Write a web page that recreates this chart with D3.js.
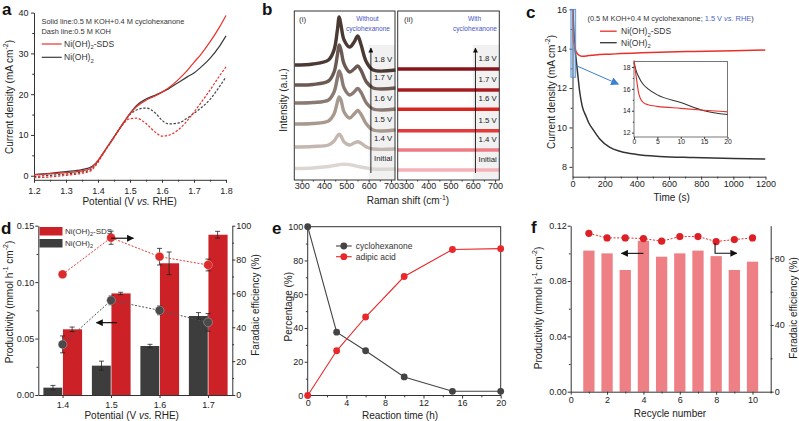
<!DOCTYPE html>
<html><head><meta charset="utf-8">
<script src="https://cdn.jsdelivr.net/npm/d3@7"></script>
<style>
body{margin:0;background:#fff;}
svg{display:block;font-family:"Liberation Sans",Arial,Helvetica,sans-serif;}
</style></head><body>
<svg id="chart" width="799" height="421"></svg>
<script>
// ---------------- DATA ----------------
// Panel a: LSV curves
const lsvPotential = [1.2,1.25,1.3,1.35,1.375,1.39,1.42,1.45,1.48,1.5,1.52,1.55,1.58,1.6,1.62,1.65,1.68,1.7,1.72,1.75,1.78,1.8];
const lsvSdsSolid = [0.2,0.45,0.75,1.2,1.7,2.8,6.0,9.5,13.0,15.2,16.9,18.5,19.6,20.5,21.5,23.5,25.9,27.8,29.6,32.8,36.5,39.3];
const lsvNiSolid  = [0.3,0.6,1.0,1.5,2.0,2.8,6.0,9.5,13.0,15.3,17.2,18.8,19.8,20.5,21.3,22.8,24.3,25.2,26.5,28.8,31.8,34.3];
const lsvSdsDash  = [-0.5,-0.3,0.1,0.6,1.1,2.2,5.8,9.3,12.8,14.0,14.1,12.8,10.6,9.7,9.9,11.2,13.6,15.6,17.7,21.0,24.5,26.7];
const lsvNiDash   = [-0.2,0.1,0.4,0.9,1.4,2.5,6.0,9.5,13.0,15.0,16.1,16.6,15.3,13.6,12.7,12.9,14.2,15.3,16.5,18.7,21.9,24.2];
const aTicksX = [1.2,1.3,1.4,1.5,1.6,1.7,1.8];
const aTicksY = [0,10,20,30,40];

// Panel b: Raman spectra (offset, arbitrary units)
const ramanShift = [270,350,420,445,460,468,476,490,515,535,551,565,590,620,720];
const ramanLabels = ["Initial","1.4 V","1.5 V","1.6 V","1.7 V","1.8 V"];
const ramanInitial = [11.5,12,13.5,14.5,15,15.4,15.6,15.7,15.4,14.5,13.7,13,12,11,11];
const raman14 = [33,33.5,35,39,44,45.7,44,38,35,37,38.3,37,33,31,31];
const raman15 = [56,56.5,59,66,78,83,80,68,62,66,69.5,66,56,50,50];
const raman16 = [77,77.5,80,88,102,109,105,92,85,88,91.5,88,77,71,71];
const raman17 = [95,95.5,99,108,125,135,130,116,108,111,114,110,98,92,92];
const raman18 = [115,116,120,130,150,163,155,140,133,138,144,136,118,110,110];
const ramanWithShift = [263,719];
const ramanWithLevels = [10,30,49.3,70.7,90,111];
const bTicksX = [300,400,500,600,700];

// Panel c: chronoamperometry
const ctTime = [0,0.5,1,1.5,2,3,5,10,15,20,30,45,60,85,100,127,168,230,300,400,542,750,1000,1200];
const ctSds  = [18.6,17.0,15.6,15.0,14.75,14.55,14.4,14.22,14.05,13.9,13.75,13.65,13.62,13.63,13.65,13.67,13.7,13.72,13.75,13.78,13.82,13.86,13.9,13.93];
const ctNi   = [18.4,17.6,17.1,16.7,16.4,16.0,15.45,14.75,14.0,13.65,12.9,11.8,11.1,10.55,10.25,9.9,9.43,9.0,8.78,8.63,8.53,8.47,8.42,8.4];
const cTicksX = [0,200,400,600,800,1000,1200];
const cTicksY = [8,10,12,14,16];
const cInsetTicksX = [0,5,10,15,20];
const cInsetTicksY = [12,14,16,18];

// Panel d: productivity & FE vs potential
const dPotential = [1.4,1.5,1.6,1.7];
const dProdSds = [0.0582,0.090,0.1167,0.142];
const dProdSdsErr = [0.002,0.001,0.010,0.003];
const dProdNi = [0.0065,0.026,0.0434,0.070];
const dProdNiErr = [0.002,0.004,0.0015,0.003];
const dFESds = [71.3,92.9,81.7,76.8];
const dFESdsErr = [0,3.9,4.9,3.5];
const dFENi = [29.9,55.9,50.0,42.9];
const dFENiErr = [5.0,2.6,2.6,5.2];
const dTicksYL = [0,0.05,0.10,0.15];
const dTicksYR = [0,20,40,60,80,100];

// Panel e: conversion vs time
const eTime = [0,3,6,10,15,20];
const eCyclohexanone = [100,37.5,26.5,11,2.5,2.5];
const eAdipic = [0,26.5,46.5,70.5,86.5,87];
const eTicksX = [0,4,8,12,16,20];
const eTicksY = [0,20,40,60,80,100];

// Panel f: recycling
const fCycle = [1,2,3,4,5,6,7,8,9,10];
const fProd = [0.102,0.100,0.088,0.109,0.0976,0.100,0.102,0.098,0.088,0.094];
const fFE = [94.9,92.2,92.2,91.8,90.2,93.0,93.0,90.0,91.2,92.2];
const fTicksX = [0,2,4,6,8,10];
const fTicksYL = [0,0.04,0.08,0.12];
const fTicksYR = [0,40,80];

// ---------------- HELPERS ----------------
const FONT = '"Liberation Sans", Arial, Helvetica, sans-serif';
const svg = d3.select('#chart');
const defs = svg.append('defs');
function marker(id, color, size) {
  defs.append('marker').attr('id', id).attr('viewBox','0 0 10 10').attr('refX',9).attr('refY',5)
    .attr('markerWidth', size).attr('markerHeight', size).attr('markerUnits','userSpaceOnUse').attr('orient','auto')
    .append('path').attr('d','M0,0 L10,5 L0,10 Z').attr('fill', color);
}
marker('arrBlack','#111',7);
marker('arrBlue','#3a7fd0',8);
marker('arrSmall','#111',5);

function addAxis(parent, orient, scale, pos, major, minor, fmt, o = {}) {
  const A = {bottom: d3.axisBottom, left: d3.axisLeft, right: d3.axisRight, top: d3.axisTop}[orient];
  const tr = (orient === 'bottom' || orient === 'top') ? `translate(0,${pos})` : `translate(${pos},0)`;
  const ts = o.tick == null ? 3 : o.tick;
  const g = parent.append('g').attr('transform', tr);
  g.call(A(scale).tickValues(major).tickFormat(fmt).tickSize(ts).tickSizeOuter(0).tickPadding(o.pad == null ? 2 : o.pad));
  g.attr('font-family', FONT).attr('font-size', o.size || 9);
  g.selectAll('.tick line').attr('stroke', '#333');
  g.selectAll('text').attr('fill', '#222');
  g.select('.domain').attr('stroke', '#333').attr('stroke-width', 1);
  if (o.noDomain) g.select('.domain').remove();
  if (minor && minor.length) {
    const m = parent.append('g').attr('transform', tr);
    m.call(A(scale).tickValues(minor).tickFormat('').tickSize(ts * 0.6).tickSizeOuter(0));
    m.select('.domain').remove();
    m.selectAll('line').attr('stroke', '#333');
  }
  return g;
}

function rt(parent, x, y, parts, o = {}) {
  const size = o.size || 9;
  const t = parent.append('text').attr('font-size', size).attr('fill', o.fill || '#222')
    .attr('text-anchor', o.anchor || 'start').attr('font-family', FONT);
  if (o.rotate) t.attr('transform', `translate(${x},${y}) rotate(${o.rotate})`);
  else t.attr('x', x).attr('y', y);
  if (o.weight) t.attr('font-weight', o.weight);
  if (o.baseline) t.attr('dominant-baseline', o.baseline);
  let shift = 0;
  (typeof parts === 'string' ? [parts] : parts).forEach(p => {
    if (typeof p === 'string') p = {t: p};
    const s = t.append('tspan').text(p.t);
    let target = 0;
    if (p.sup) target = -size * 0.38; else if (p.sub) target = size * 0.28;
    if (target !== shift) { s.attr('dy', target - shift); shift = target; }
    if (p.sup || p.sub) s.attr('font-size', size * 0.7);
    if (p.it) s.attr('font-style', 'italic');
    if (p.fill) s.attr('fill', p.fill);
  });
  return t;
}
const NIOH = (suffix) => ['Ni(OH)', {t: '2', sub: true}].concat(suffix ? [suffix] : []);
function letter(x, y, s) { rt(svg, x, y, s, {size: 17, weight: 'bold', fill: '#111'}); }
const minorBetween = (arr) => arr.slice(0, -1).map((v, i) => (v + arr[i + 1]) / 2);

// ---------------- PANEL A ----------------
{
  const g = svg.append('g');
  const x = d3.scaleLinear().domain([1.2, 1.8]).range([34, 226]);
  const y = d3.scaleLinear().domain([-1, 40]).range([179.8, 12.6]);
  addAxis(g, 'bottom', x, y(-1), aTicksX, minorBetween(aTicksX), d3.format('.1f'), {pad: 5});
  addAxis(g, 'left', y, x(1.2), aTicksY, minorBetween(aTicksY), d3.format('d'), {pad: 2.5});
  const line = (vals) => d3.line().x((d, i) => x(lsvPotential[i])).y(d => y(d)).curve(d3.curveMonotoneX)(vals);
  g.append('path').attr('d', line(lsvNiDash)).attr('fill', 'none').attr('stroke', '#444').attr('stroke-width', 1.2).attr('stroke-dasharray', '2.4,1.6');
  g.append('path').attr('d', line(lsvSdsDash)).attr('fill', 'none').attr('stroke', '#e8302a').attr('stroke-width', 1.2).attr('stroke-dasharray', '2.4,1.6');
  g.append('path').attr('d', line(lsvNiSolid)).attr('fill', 'none').attr('stroke', '#3a3a3a').attr('stroke-width', 1.2);
  g.append('path').attr('d', line(lsvSdsSolid)).attr('fill', 'none').attr('stroke', '#e8302a').attr('stroke-width', 1.2);
  rt(g, 41.5, 23.5, 'Solid line:0.5 M KOH+0.4 M cyclohexanone', {size: 7.4, fill: '#333'});
  rt(g, 41.5, 33.5, 'Dash line:0.5 M KOH', {size: 7.4, fill: '#333'});
  g.append('line').attr('x1', 41.7).attr('x2', 61.7).attr('y1', 44).attr('y2', 44).attr('stroke', '#e8302a').attr('stroke-width', 1.2);
  g.append('line').attr('x1', 41.7).attr('x2', 61.7).attr('y1', 57.3).attr('y2', 57.3).attr('stroke', '#3a3a3a').attr('stroke-width', 1.2);
  rt(g, 64, 47, NIOH('-SDS'), {size: 8.5, fill: '#333'});
  rt(g, 64, 60.3, NIOH(), {size: 8.5, fill: '#333'});
  rt(g, 10, 97, ['Current density (mA cm', {t: '-2', sup: true}, ')'], {size: 10, anchor: 'middle', rotate: -90, baseline: 'middle'});
  rt(g, 129.7, 205, ['Potential (V ', {t: 'vs.', it: true}, ' RHE)'], {size: 10, anchor: 'middle'});
  letter(2, 15, 'a');
}

// ---------------- PANEL B ----------------
{
  const g = svg.append('g');
  const y = d3.scaleLinear().domain([0, 169]).range([180, 11]);
  const xi = d3.scaleLinear().domain([267, 718]).range([294.3, 395]);
  const xii = d3.scaleLinear().domain([263, 719]).range([397.7, 499.3]);
  const withoutSets = [ramanInitial, raman14, raman15, raman16, raman17, raman18];
  const withoutColors = ['#dcd6d2', '#c3b7b0', '#a8998f', '#8a7a72', '#6b5a52', '#4a3a33'];
  const withColors = ['#f4b1b8', '#ec7b82', '#e33b3b', '#d8261f', '#a81c20', '#86141a'];
  [xi, xii].forEach(x => {
    g.append('rect').attr('x', x(600)).attr('y', y(135)).attr('width', x.range()[1] - x(600)).attr('height', y(0) - y(135)).attr('fill', '#f1f1f1');
  });
  const lineI = (vals) => d3.line().x((d, i) => xi(ramanShift[i])).y(d => y(d)).curve(d3.curveCatmullRom.alpha(0.5))(vals);
  withoutSets.forEach((vals, i) => {
    g.append('path').attr('d', lineI(vals)).attr('fill', 'none').attr('stroke', withoutColors[i]).attr('stroke-width', 3.4).attr('stroke-linejoin', 'round');
    rt(g, xi(624), y(vals[vals.length - 1]) - 10, ramanLabels[i], {size: 7.8, fill: '#222', baseline: 'middle'});
  });
  ramanWithLevels.forEach((lv, i) => {
    g.append('path').attr('d', d3.line().x(d => xii(d)).y(() => y(lv))(ramanWithShift)).attr('fill', 'none').attr('stroke', withColors[i]).attr('stroke-width', 3.4);
    rt(g, xii(626), y(lv) - 10, ramanLabels[i], {size: 7.8, fill: '#222', baseline: 'middle'});
  });
  g.append('line').attr('x1', xi(610)).attr('x2', xi(610)).attr('y1', y(7)).attr('y2', y(132)).attr('stroke', '#111').attr('stroke-width', 0.9).attr('marker-end', 'url(#arrSmall)');
  g.append('line').attr('x1', xii(612)).attr('x2', xii(612)).attr('y1', y(7)).attr('y2', y(132)).attr('stroke', '#111').attr('stroke-width', 0.9).attr('marker-end', 'url(#arrSmall)');
  [xi, xii].forEach(x => {
    g.append('rect').attr('x', x.range()[0]).attr('y', 11).attr('width', x.range()[1] - x.range()[0]).attr('height', 169).attr('fill', 'none').attr('stroke', '#333').attr('stroke-width', 1);
    addAxis(g, 'bottom', x, 180, bTicksX, minorBetween(bTicksX), d3.format('d'), {tick: 2.5, pad: 0.5, noDomain: true});
  });
  rt(g, 299, 22, '(i)', {size: 8, fill: '#333'});
  rt(g, 404, 22, '(ii)', {size: 8, fill: '#333'});
  rt(g, 367.5, 20.5, 'Without', {size: 6.6, fill: '#4a55c8', anchor: 'middle'});
  rt(g, 368, 30.5, 'cyclohexanone', {size: 6.6, fill: '#4a55c8', anchor: 'middle'});
  rt(g, 474.5, 20.5, 'With', {size: 6.6, fill: '#4a55c8', anchor: 'middle'});
  rt(g, 475, 30.5, 'cyclohexanone', {size: 6.6, fill: '#4a55c8', anchor: 'middle'});
  rt(g, 283.5, 100, 'Intensity (a.u.)', {size: 10, anchor: 'middle', rotate: -90, baseline: 'middle'});
  rt(g, 408, 203.5, ['Raman shift (cm', {t: '-1', sup: true}, ')'], {size: 10, anchor: 'middle'});
  letter(262, 15, 'b');
}

// ---------------- PANEL C ----------------
{
  const g = svg.append('g');
  const x = d3.scaleLinear().domain([0, 1200]).range([572.5, 765.5]);
  const y = d3.scaleLinear().domain([7.5, 16]).range([176.7, 9.3]);
  defs.append('clipPath').attr('id', 'clipC').append('rect').attr('x', 572.5).attr('y', 9.3).attr('width', 193).attr('height', 167.4);
  addAxis(g, 'bottom', x, 176.7, cTicksX, minorBetween(cTicksX), d3.format('d'), {pad: 0.5});
  addAxis(g, 'left', y, 572.5, cTicksY, minorBetween(cTicksY), d3.format('d'), {pad: 2.5});
  const line = (vals) => d3.line().x((d, i) => x(ctTime[i])).y(d => y(d)).curve(d3.curveMonotoneX)(vals);
  const pc = g.append('g').attr('clip-path', 'url(#clipC)');
  pc.append('path').attr('d', line(ctNi)).attr('fill', 'none').attr('stroke', '#333').attr('stroke-width', 1.5);
  pc.append('path').attr('d', line(ctSds)).attr('fill', 'none').attr('stroke', '#e8302a').attr('stroke-width', 1.5);
  g.append('rect').attr('x', x(-10)).attr('y', y(16)).attr('width', x(20) - x(-10)).attr('height', y(12.55) - y(16))
    .attr('fill', 'rgba(120,170,225,0.45)').attr('stroke', '#4f8ad0').attr('stroke-width', 0.8);
  g.append('line').attr('x1', x(20)).attr('y1', y(13.15)).attr('x2', x(285)).attr('y2', y(12.2)).attr('stroke', '#3a7fd0').attr('stroke-width', 1).attr('marker-end', 'url(#arrBlue)');
  const ix = d3.scaleLinear().domain([0, 20]).range([634, 727.5]);
  const iy = d3.scaleLinear().domain([11.6, 18.5]).range([137, 61.5]);
  const ig = g.append('g');
  ig.append('rect').attr('x', 634).attr('y', 61.5).attr('width', 93.5).attr('height', 75.5).attr('fill', '#fff').attr('stroke', '#555').attr('stroke-width', 0.8);
  addAxis(ig, 'bottom', ix, 137, cInsetTicksX, [], d3.format('d'), {tick: 2, pad: 0.5, size: 6.8, noDomain: true});
  addAxis(ig, 'left', iy, 634, cInsetTicksY, [13, 15, 17], d3.format('d'), {tick: 2, pad: 1.5, size: 6.8, noDomain: true});
  const n = ctTime.filter(t => t <= 20).length;
  const iline = (vals) => d3.line().x((d, i) => ix(ctTime[i])).y(d => iy(d)).curve(d3.curveMonotoneX)(vals.slice(0, n));
  ig.append('path').attr('d', iline(ctNi)).attr('fill', 'none').attr('stroke', '#333').attr('stroke-width', 1.1);
  ig.append('path').attr('d', iline(ctSds)).attr('fill', 'none').attr('stroke', '#e8302a').attr('stroke-width', 1.1);
  rt(g, 587.5, 21, ['(0.5 M KOH+0.4 M cyclohexanone; ', {t: '1.5 V ', fill: '#4a63c8'}, {t: 'vs.', it: true, fill: '#4a63c8'}, {t: ' RHE', fill: '#4a63c8'}, ')'], {size: 7.4, fill: '#333'});
  g.append('line').attr('x1', 600).attr('x2', 616.7).attr('y1', 31.2).attr('y2', 31.2).attr('stroke', '#e8302a').attr('stroke-width', 1.3);
  g.append('line').attr('x1', 600).attr('x2', 616.7).attr('y1', 42.7).attr('y2', 42.7).attr('stroke', '#333').attr('stroke-width', 1.3);
  rt(g, 621, 34.2, NIOH('-SDS'), {size: 8.5, fill: '#333'});
  rt(g, 621, 45.7, NIOH(), {size: 8.5, fill: '#333'});
  rt(g, 551.7, 92, ['Current density (mA cm', {t: '-2', sup: true}, ')'], {size: 10, anchor: 'middle', rotate: -90, baseline: 'middle'});
  rt(g, 671.7, 200.5, 'Time (s)', {size: 10, anchor: 'middle'});
  letter(526, 18, 'c');
}

// ---------------- PANEL D ----------------
{
  const g = svg.append('g');
  const x = d3.scaleLinear().domain([1.35, 1.75]).range([38.3, 232.3]);
  const yl = d3.scaleLinear().domain([0, 0.15]).range([395, 225.7]);
  const yr = d3.scaleLinear().domain([0, 100]).range([395, 225.7]);
  const bw = 0.0395;
  dPotential.forEach((p, i) => {
    g.append('rect').attr('x', x(p - bw)).attr('y', yl(dProdNi[i])).attr('width', x(p) - x(p - bw) - 0.3).attr('height', yl(0) - yl(dProdNi[i])).attr('fill', '#3d3d3d');
    g.append('rect').attr('x', x(p + 0.0008)).attr('y', yl(dProdSds[i])).attr('width', x(p + bw) - x(p)).attr('height', yl(0) - yl(dProdSds[i])).attr('fill', '#cc2127');
  });
  const err = (cx, lo, hi) => {
    g.append('line').attr('x1', cx).attr('x2', cx).attr('y1', lo).attr('y2', hi).attr('stroke', '#222').attr('stroke-width', 0.8);
    [lo, hi].forEach(v => g.append('line').attr('x1', cx - 2.5).attr('x2', cx + 2.5).attr('y1', v).attr('y2', v).attr('stroke', '#222').attr('stroke-width', 0.8));
  };
  dPotential.forEach((p, i) => {
    err(x(p - bw / 2), yl(dProdNi[i] - dProdNiErr[i]), yl(dProdNi[i] + dProdNiErr[i]));
    err(x(p + bw / 2), yl(dProdSds[i] - dProdSdsErr[i]), yl(dProdSds[i] + dProdSdsErr[i]));
  });
  const fl = (vals) => d3.line().x((d, i) => x(dPotential[i])).y(d => yr(d))(vals);
  g.append('path').attr('d', fl(dFENi)).attr('fill', 'none').attr('stroke', '#555').attr('stroke-width', 1).attr('stroke-dasharray', '2,1.6');
  g.append('path').attr('d', fl(dFESds)).attr('fill', 'none').attr('stroke', '#e63a35').attr('stroke-width', 1).attr('stroke-dasharray', '2,1.6');
  dPotential.forEach((p, i) => {
    if (dFENiErr[i]) err(x(p), yr(dFENi[i] - dFENiErr[i]), yr(dFENi[i] + dFENiErr[i]));
    if (dFESdsErr[i]) err(x(p), yr(dFESds[i] - dFESdsErr[i]), yr(dFESds[i] + dFESdsErr[i]));
    g.append('circle').attr('cx', x(p)).attr('cy', yr(dFENi[i])).attr('r', 4.4).attr('fill', '#4a4a4a').attr('stroke', 'rgba(255,255,255,0.35)').attr('stroke-width', 0.8);
    g.append('circle').attr('cx', x(p)).attr('cy', yr(dFESds[i])).attr('r', 4.4).attr('fill', '#dd2a2a').attr('stroke', 'rgba(255,255,255,0.35)').attr('stroke-width', 0.8);
  });
  g.append('line').attr('x1', x(1.5)).attr('x2', x(1.546)).attr('y1', yr(92.6)).attr('y2', yr(92.6)).attr('stroke', '#111').attr('stroke-width', 1.2).attr('marker-end', 'url(#arrBlack)');
  g.append('line').attr('x1', x(1.512)).attr('x2', x(1.470)).attr('y1', yl(0.0641)).attr('y2', yl(0.0641)).attr('stroke', '#111').attr('stroke-width', 1.2).attr('marker-end', 'url(#arrBlack)');
  addAxis(g, 'bottom', x, 395, dPotential, [], d3.format('.1f'), {pad: 3.5});
  addAxis(g, 'left', yl, 38.3, dTicksYL, minorBetween(dTicksYL), d3.format('.2f'), {pad: 1});
  addAxis(g, 'right', yr, 232.3, dTicksYR, minorBetween(dTicksYR), d3.format('d'), {pad: 1});
  g.append('rect').attr('x', 39.5).attr('y', 227).attr('width', 23).attr('height', 8.5).attr('fill', '#cc2127');
  g.append('rect').attr('x', 39.5).attr('y', 239).attr('width', 23).attr('height', 8.5).attr('fill', '#3d3d3d');
  rt(g, 65, 234.2, NIOH('-SDS'), {size: 8, fill: '#333'});
  rt(g, 65, 246.2, NIOH(), {size: 8, fill: '#333'});
  rt(g, 10, 302, ['Productivity (mmol h', {t: '-1', sup: true}, ' cm', {t: '-2', sup: true}, ')'], {size: 10, anchor: 'middle', rotate: -90, baseline: 'middle'});
  rt(g, 256, 305, 'Faradaic efficiency (%)', {size: 10, anchor: 'middle', rotate: -90, baseline: 'middle'});
  rt(g, 131.7, 419, ['Potential (V ', {t: 'vs.', it: true}, ' RHE)'], {size: 10, anchor: 'middle'});
  letter(1, 234, 'd');
}

// ---------------- PANEL E ----------------
{
  const g = svg.append('g');
  const x = d3.scaleLinear().domain([0, 20]).range([307.7, 500.7]);
  const y = d3.scaleLinear().domain([0, 100]).range([395.5, 226.7]);
  g.append('rect').attr('x', 307.7).attr('y', 226.7).attr('width', 193).attr('height', 168.8).attr('fill', 'none').attr('stroke', '#333').attr('stroke-width', 1);
  addAxis(g, 'bottom', x, 395.5, eTicksX, minorBetween(eTicksX), d3.format('d'), {pad: 1.5, noDomain: true});
  addAxis(g, 'left', y, 307.7, eTicksY, minorBetween(eTicksY), d3.format('d'), {pad: 1.5, noDomain: true});
  const line = (vals) => d3.line().x((d, i) => x(eTime[i])).y(d => y(d))(vals);
  const series = [[eCyclohexanone, '#444'], [eAdipic, '#e8282a']];
  series.forEach(([vals, c]) => {
    g.append('path').attr('d', line(vals)).attr('fill', 'none').attr('stroke', c).attr('stroke-width', 1.1);
    g.selectAll(null).data(vals).enter().append('circle').attr('cx', (d, i) => x(eTime[i])).attr('cy', d => y(d)).attr('r', 3.4).attr('fill', c);
  });
  [['cyclohexanone', '#444', 246], ['adipic acid', '#e8282a', 256.7]].forEach(([t, c, yy]) => {
    g.append('line').attr('x1', 336).attr('x2', 351.7).attr('y1', yy).attr('y2', yy).attr('stroke', c).attr('stroke-width', 1.1);
    g.append('circle').attr('cx', 343.8).attr('cy', yy).attr('r', 3.4).attr('fill', c);
    rt(g, 355.7, yy + 3, t, {size: 8.5, fill: '#333'});
  });
  rt(g, 288.5, 306.7, 'Percentage (%)', {size: 10, anchor: 'middle', rotate: -90, baseline: 'middle'});
  rt(g, 400, 418.5, 'Reaction time (h)', {size: 10, anchor: 'middle'});
  letter(272, 234, 'e');
}

// ---------------- PANEL F ----------------
{
  const g = svg.append('g');
  const x = d3.scaleLinear().domain([0, 11]).range([570.7, 770.7]);
  const yl = d3.scaleLinear().domain([0, 0.12]).range([391.7, 225.7]);
  const yr = d3.scaleLinear().domain([0, 99.5]).range([391.7, 225.7]);
  const bw = 0.62;
  g.selectAll(null).data(fProd).enter().append('rect')
    .attr('x', (d, i) => x(fCycle[i] - bw / 2)).attr('y', d => yl(d))
    .attr('width', x(bw) - x(0)).attr('height', d => yl(0) - yl(d)).attr('fill', '#ee7f85');
  g.append('path').attr('d', d3.line().x((d, i) => x(fCycle[i])).y(d => yr(d))(fFE)).attr('fill', 'none').attr('stroke', '#e8302a').attr('stroke-width', 1).attr('stroke-dasharray', '2,1.6');
  g.selectAll(null).data(fFE).enter().append('circle').attr('cx', (d, i) => x(fCycle[i])).attr('cy', d => yr(d)).attr('r', 3.6).attr('fill', '#dd1f26');
  g.append('line').attr('x1', x(4.0)).attr('x2', x(2.8)).attr('y1', yl(0.1)).attr('y2', yl(0.1)).attr('stroke', '#111').attr('stroke-width', 1.1).attr('marker-end', 'url(#arrBlack)');
  g.append('path').attr('d', `M${x(7.94)},${yr(89)} L${x(7.94)},${yr(83)} L${x(9.13)},${yr(83)}`).attr('fill', 'none').attr('stroke', '#111').attr('stroke-width', 1.1).attr('marker-end', 'url(#arrBlack)');
  addAxis(g, 'bottom', x, 391.7, fTicksX, [1, 3, 5, 7, 9, 11], d3.format('d'), {pad: 1.5});
  addAxis(g, 'left', yl, 570.7, fTicksYL, minorBetween(fTicksYL), d3.format('.2f'), {pad: 1});
  addAxis(g, 'right', yr, 770.7, fTicksYR, minorBetween(fTicksYR), d3.format('d'), {pad: 1});
  rt(g, 538.5, 308, ['Productivity (mmol h', {t: '-1', sup: true}, ' cm', {t: '-2', sup: true}, ')'], {size: 10, anchor: 'middle', rotate: -90, baseline: 'middle'});
  rt(g, 793.5, 308, 'Faradaic efficiency (%)', {size: 10, anchor: 'middle', rotate: -90, baseline: 'middle'});
  rt(g, 670, 417, 'Recycle number', {size: 10, anchor: 'middle'});
  letter(531, 233, 'f');
}
</script>
</body></html>
